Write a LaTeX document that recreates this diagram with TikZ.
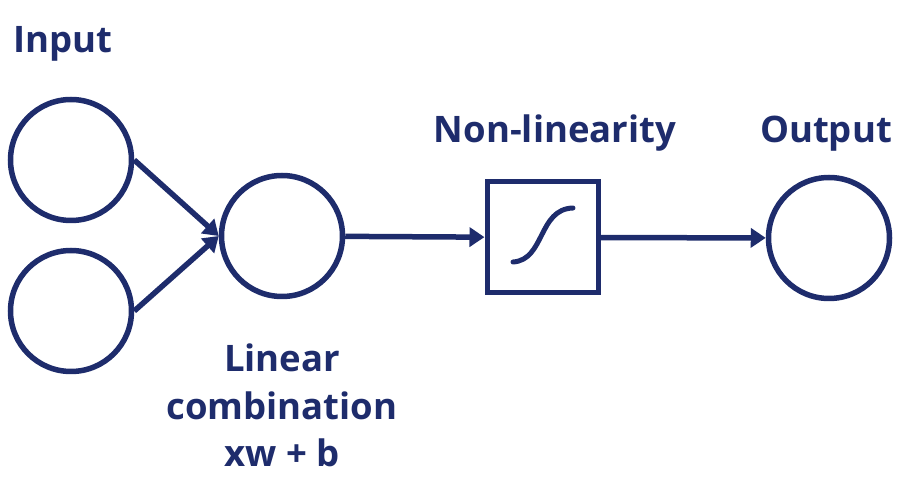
\documentclass[tikz,border=0pt]{standalone}
\usepackage{fontspec}
\setmainfont{Open Sans}
\usetikzlibrary{arrows.meta}
\definecolor{navy}{HTML}{1E2C6C}
\begin{document}
\begin{tikzpicture}[x=1pt,y=-1pt,
  neuron/.style={circle,draw=navy,line width=5.5pt,minimum size=121pt,inner sep=0pt},
  sigbox/.style={rectangle,draw=navy,line width=5pt,minimum size=111pt,inner sep=0pt},
  lbl/.style={text=navy,font=\fontsize{36.5}{47.5}\selectfont\bfseries,align=center,inner sep=0pt},
  conn/.style={draw=navy,line width=5.5pt,-{Triangle[length=15pt,width=19pt]}}]
\useasboundingbox (0,0) rectangle (914,494);
\node[neuron] (in1) at (71,160) {};
\node[neuron] (in2) at (71,311) {};
\node[neuron] (lin) at (282,236) {};
\node[sigbox] (nl) at (542.5,237.5) {};
\node[neuron] (out) at (829,238) {};
\node[lbl,anchor=base] (tin) at (63,53) {Input};
\node[lbl,anchor=base] (tnl) at (555,143) {Non-linearity};
\node[lbl,anchor=base] (tout) at (826,143) {Output};
\node[lbl,anchor=base] (tlin) at (282,467) {Linear\\combination\\xw + b};
\draw[conn] (in1.east) -- (lin.west);
\draw[conn] (in2.east) -- (lin.west);
\draw[conn] (lin) -- (nl);
\draw[conn] (nl) -- (out);
\draw[navy,line width=5pt,line cap=round] (513,262) .. controls (545,260) and (538,209) .. (573,208);
\end{tikzpicture}
\end{document}
